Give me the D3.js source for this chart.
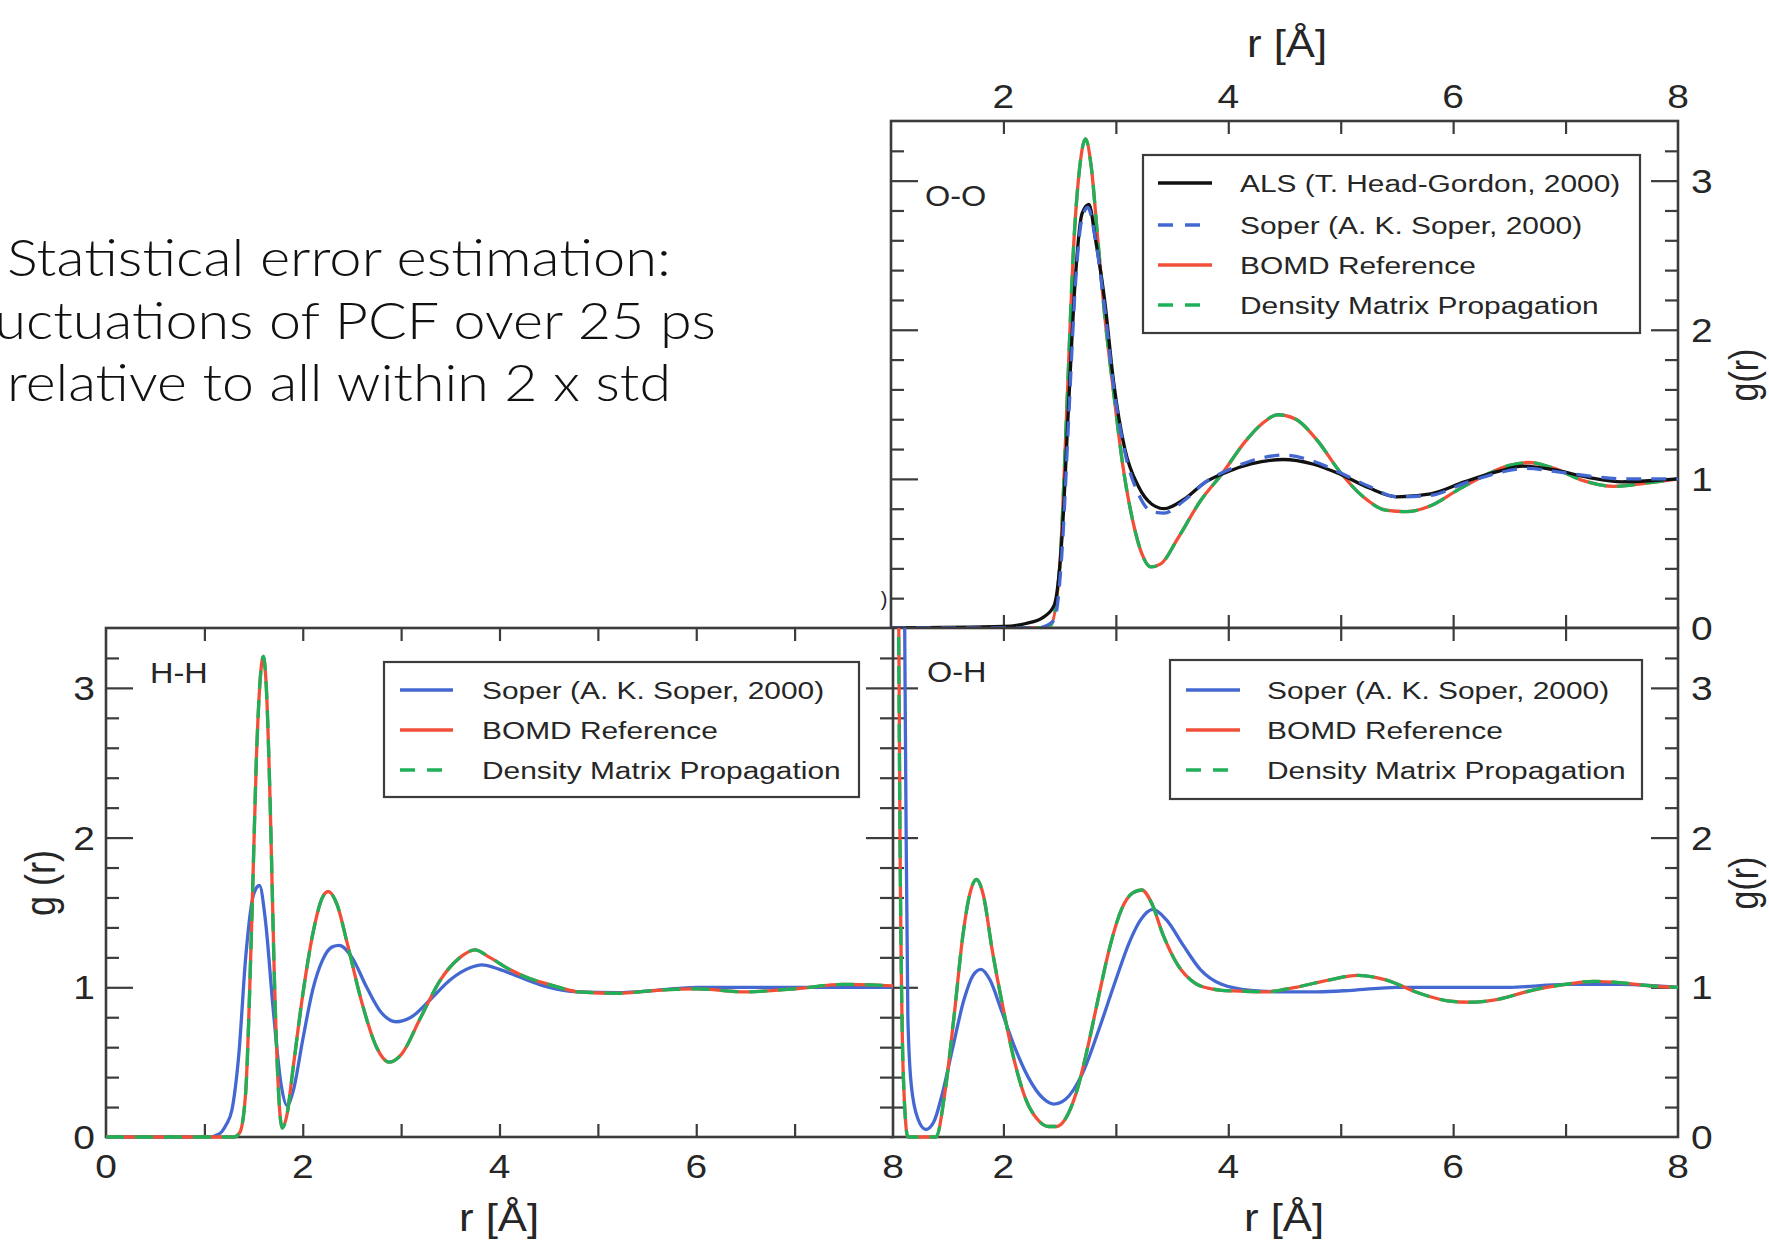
<!DOCTYPE html>
<html>
<head>
<meta charset="utf-8">
<script src="https://cdn.jsdelivr.net/npm/d3@7"></script>
<style>
  body { margin: 0; background: #fff; }
</style>
</head>
<body>
<svg id="chart"></svg>
<script>
// ---- data (r in Angstrom, g(r)) ----
// O-O panel
const ooAlsR   = [1.0, 2.0, 2.2, 2.35, 2.45, 2.52, 2.58, 2.64, 2.7, 2.76, 2.82, 2.9, 2.98, 3.08, 3.2, 3.32, 3.43, 3.6, 3.8, 4.0, 4.2, 4.49, 4.75, 5.0, 5.25, 5.5, 5.8, 6.1, 6.4, 6.62, 6.9, 7.2, 7.5, 7.8, 8.0];
const ooAlsG   = [0, 0.01, 0.03, 0.07, 0.15, 0.6, 1.5, 2.35, 2.78, 2.84, 2.6, 2.2, 1.65, 1.2, 0.95, 0.83, 0.8, 0.86, 0.98, 1.05, 1.1, 1.13, 1.1, 1.03, 0.94, 0.88, 0.9, 0.98, 1.05, 1.085, 1.06, 1.01, 0.98, 0.99, 1.0];
const ooSoperR = [1.0, 2.3, 2.45, 2.52, 2.58, 2.64, 2.7, 2.75, 2.82, 2.9, 2.98, 3.08, 3.2, 3.32, 3.43, 3.6, 3.8, 4.0, 4.2, 4.5, 4.75, 5.0, 5.25, 5.5, 5.8, 6.1, 6.4, 6.65, 6.9, 7.2, 7.5, 7.8, 8.0];
const ooSoperG = [0, 0, 0.05, 0.5, 1.4, 2.3, 2.75, 2.82, 2.6, 2.15, 1.62, 1.18, 0.9, 0.78, 0.77, 0.85, 0.98, 1.06, 1.12, 1.16, 1.12, 1.04, 0.95, 0.88, 0.89, 0.97, 1.04, 1.07, 1.05, 1.02, 1.0, 1.0, 1.0];
const ooBomdR  = [1.0, 2.3, 2.42, 2.5, 2.56, 2.62, 2.68, 2.73, 2.78, 2.84, 2.9, 2.98, 3.06, 3.15, 3.23, 3.31, 3.4, 3.55, 3.75, 3.95, 4.15, 4.3, 4.44, 4.6, 4.8, 4.98, 5.2, 5.4, 5.58, 5.8, 6.05, 6.3, 6.5, 6.67, 6.9, 7.15, 7.43, 7.7, 8.0];
const ooBomdG  = [0, 0, 0.02, 0.4, 1.4, 2.5, 3.1, 3.28, 3.1, 2.6, 2.1, 1.58, 1.1, 0.72, 0.5, 0.41, 0.43, 0.6, 0.85, 1.04, 1.25, 1.37, 1.43, 1.4, 1.25, 1.06, 0.88, 0.79, 0.78, 0.82, 0.93, 1.03, 1.09, 1.11, 1.07, 0.99, 0.95, 0.97, 1.0];
const ooDmpG   = ooBomdG; // green dashes lie right on top of the red curve

// H-H panel
const hhSoperR = [0, 1.05, 1.15, 1.22, 1.28, 1.35, 1.42, 1.5, 1.56, 1.62, 1.7, 1.78, 1.84, 1.9, 2.0, 2.1, 2.2, 2.3, 2.37, 2.5, 2.65, 2.8, 2.95, 3.1, 3.3, 3.5, 3.7, 3.82, 4.0, 4.2, 4.45, 4.8, 5.2, 5.6, 6.0, 6.5, 7.0, 7.5, 8.0];
const hhSoperG = [0, 0, 0.02, 0.08, 0.18, 0.55, 1.2, 1.62, 1.68, 1.45, 0.85, 0.35, 0.21, 0.3, 0.65, 0.98, 1.18, 1.27, 1.28, 1.2, 1.0, 0.83, 0.77, 0.8, 0.92, 1.05, 1.13, 1.15, 1.12, 1.07, 1.01, 0.97, 0.965, 0.98, 1.0, 1.0, 1.0, 1.0, 1.0];
const hhBomdR  = [0, 1.0, 1.3, 1.36, 1.42, 1.48, 1.53, 1.57, 1.6, 1.63, 1.67, 1.71, 1.75, 1.79, 1.84, 1.9, 2.0, 2.1, 2.2, 2.26, 2.35, 2.45, 2.6, 2.75, 2.88, 3.0, 3.2, 3.4, 3.6, 3.75, 3.9, 4.1, 4.3, 4.5, 4.8, 5.2, 5.6, 6.0, 6.5, 7.0, 7.5, 8.0];
const hhBomdG  = [0, 0, 0, 0.03, 0.3, 1.4, 2.55, 3.08, 3.21, 3.0, 2.2, 1.1, 0.35, 0.06, 0.15, 0.45, 0.95, 1.35, 1.6, 1.64, 1.55, 1.3, 0.9, 0.6, 0.5, 0.55, 0.8, 1.05, 1.2, 1.25, 1.2, 1.12, 1.06, 1.02, 0.97, 0.96, 0.98, 0.99, 0.97, 0.99, 1.02, 1.01];
const hhDmpG   = hhBomdG;

// O-H panel (first peak near 1 A runs far off the top)
const ohSoperR = [1.0, 1.08, 1.13, 1.15, 1.18, 1.24, 1.31, 1.38, 1.46, 1.55, 1.65, 1.73, 1.8, 1.88, 1.98, 2.1, 2.22, 2.35, 2.45, 2.55, 2.7, 2.85, 3.0, 3.12, 3.22, 3.33, 3.45, 3.6, 3.75, 3.94, 4.2, 4.5, 4.8, 5.1, 5.5, 6.0, 6.5, 7.0, 7.5, 8.0];
const ohSoperG = [20, 8, 2.5, 0.8, 0.35, 0.12, 0.05, 0.1, 0.3, 0.6, 0.92, 1.08, 1.12, 1.05, 0.85, 0.6, 0.4, 0.26, 0.22, 0.25, 0.42, 0.72, 1.05, 1.3, 1.45, 1.52, 1.45, 1.28, 1.12, 1.02, 0.98, 0.97, 0.97, 0.98, 1.0, 1.0, 1.0, 1.02, 1.02, 1.0];
const ohBomdR  = [1.0, 1.05, 1.08, 1.11, 1.15, 1.4, 1.48, 1.56, 1.64, 1.7, 1.76, 1.82, 1.9, 2.0, 2.1, 2.2, 2.3, 2.4, 2.47, 2.55, 2.65, 2.75, 2.85, 2.95, 3.05, 3.15, 3.23, 3.32, 3.42, 3.55, 3.7, 3.85, 3.94, 4.1, 4.34, 4.6, 4.9, 5.15, 5.4, 5.7, 5.95, 6.16, 6.4, 6.7, 7.0, 7.25, 7.5, 7.75, 8.0];
const ohBomdG  = [20, 6, 2, 0.4, 0.0, 0.0, 0.3, 0.8, 1.35, 1.62, 1.72, 1.62, 1.25, 0.85, 0.5, 0.25, 0.12, 0.07, 0.07, 0.12, 0.3, 0.6, 0.95, 1.28, 1.52, 1.63, 1.65, 1.56, 1.35, 1.15, 1.03, 0.99, 0.98, 0.975, 0.97, 1.0, 1.05, 1.08, 1.05, 0.96, 0.91, 0.9, 0.92, 0.98, 1.02, 1.04, 1.03, 1.01, 1.0];
const ohDmpG   = ohBomdG;

const legendOO = ["ALS (T. Head-Gordon, 2000)", "Soper (A. K. Soper, 2000)", "BOMD Reference", "Density Matrix Propagation"];
const legend3  = ["Soper (A. K. Soper, 2000)", "BOMD Reference", "Density Matrix Propagation"];
const slideText = ["Statistical error estimation:", "Fluctuations of PCF over 25 ps", "relative to all within 2 x std"];

// ---- setup ----
const W = 1769, H = 1246;
const FONT = "'Liberation Sans', Arial, Helvetica, sans-serif";
const INK = "#262626";
const FRAME = "#3d3b3b";
const col = { als: "#111111", soper: "#4468d2", bomd: "#f24f38", dmp: "#1fb05a" };
const DASH = "18,11";

const svg = d3.select("#chart").attr("width", W).attr("height", H);
svg.append("rect").attr("width", W).attr("height", H).attr("fill", "#fff");

// the figure image is a bit stretched sideways, so the text is too
function sText(parent, x, y, str, size, anchor, k, rot) {
  return parent.append("text")
    .attr("transform", `translate(${x},${y}) scale(${k},1)` + (rot ? ` rotate(${rot})` : ""))
    .attr("text-anchor", anchor)
    .attr("font-family", FONT)
    .attr("font-size", size)
    .attr("fill", INK)
    .text(str);
}

const panels = [
  {
    id: "oo", label: "O-O", labelPos: [925, 206],
    box: { x0: 891, x1: 1678, y0: 121, y1: 628 }, xDomain: [1, 8],
    xLabels: "top", yLabels: "right",
    series: [
      { r: ooBomdR, g: ooBomdG, color: col.bomd },
      { r: ooBomdR, g: ooDmpG, color: col.dmp, dash: DASH },
      { r: ooAlsR, g: ooAlsG, color: col.als },
      { r: ooSoperR, g: ooSoperG, color: col.soper, dash: "15,10" }
    ],
    legend: { x0: 1143, y0: 155, x1: 1640, y1: 333, rows: [183, 225, 265, 305], s0: 1158, s1: 1212, tx: 1240,
      names: legendOO,
      styles: [{ c: col.als }, { c: col.soper, d: "15,12" }, { c: col.bomd }, { c: col.dmp, d: "15,12" }] }
  },
  {
    id: "oh", label: "O-H", labelPos: [927, 682],
    box: { x0: 891, x1: 1678, y0: 628, y1: 1137 }, xDomain: [1, 8],
    xLabels: "bottom", yLabels: "right",
    series: [
      { r: ohSoperR, g: ohSoperG, color: col.soper },
      { r: ohBomdR, g: ohBomdG, color: col.bomd },
      { r: ohBomdR, g: ohDmpG, color: col.dmp, dash: DASH }
    ],
    legend: { x0: 1170, y0: 660, x1: 1642, y1: 799, rows: [690, 730, 770], s0: 1186, s1: 1240, tx: 1267,
      names: legend3,
      styles: [{ c: col.soper }, { c: col.bomd }, { c: col.dmp, d: "15,12" }] }
  },
  {
    id: "hh", label: "H-H", labelPos: [150, 683],
    box: { x0: 106, x1: 893, y0: 628, y1: 1137 }, xDomain: [0, 8],
    xLabels: "bottom", yLabels: "left",
    series: [
      { r: hhSoperR, g: hhSoperG, color: col.soper },
      { r: hhBomdR, g: hhBomdG, color: col.bomd },
      { r: hhBomdR, g: hhDmpG, color: col.dmp, dash: DASH }
    ],
    legend: { x0: 384, y0: 662, x1: 859, y1: 797, rows: [690, 730, 770], s0: 400, s1: 453, tx: 482,
      names: legend3,
      styles: [{ c: col.soper }, { c: col.bomd }, { c: col.dmp, d: "15,12" }] }
  }
];

panels.forEach(p => {
  const b = p.box;
  const g = svg.append("g").attr("class", "panel-" + p.id);
  const x = d3.scaleLinear().domain(p.xDomain).range([b.x0, b.x1]);
  const y = d3.scaleLinear().domain([0, 3.4]).range([b.y1, b.y0]);

  // white panel background + frame
  g.append("rect")
    .attr("x", b.x0).attr("y", b.y0)
    .attr("width", b.x1 - b.x0).attr("height", b.y1 - b.y0)
    .attr("fill", "#fff");

  // ticks, all pointing inward
  const xt = d3.range(Math.floor(p.xDomain[0]) + 1, p.xDomain[1]);
  const yMinor = d3.range(1, 17).filter(i => i % 5 !== 0).map(i => i * 0.2);
  const yMajor = [1, 2, 3];
  const axes = [
    g.append("g").attr("transform", `translate(0,${b.y1})`).call(d3.axisBottom(x).tickValues(xt).tickSize(-13).tickFormat("")),
    g.append("g").attr("transform", `translate(0,${b.y0})`).call(d3.axisTop(x).tickValues(xt).tickSize(-13).tickFormat("")),
    g.append("g").attr("transform", `translate(${b.x0},0)`).call(d3.axisLeft(y).tickValues(yMinor).tickSize(-13).tickFormat("")),
    g.append("g").attr("transform", `translate(${b.x0},0)`).call(d3.axisLeft(y).tickValues(yMajor).tickSize(-27).tickFormat("")),
    g.append("g").attr("transform", `translate(${b.x1},0)`).call(d3.axisRight(y).tickValues(yMinor).tickSize(-13).tickFormat("")),
    g.append("g").attr("transform", `translate(${b.x1},0)`).call(d3.axisRight(y).tickValues(yMajor).tickSize(-27).tickFormat(""))
  ];
  axes.forEach(a => {
    a.select(".domain").remove();
    a.selectAll("line").attr("stroke", FRAME).attr("stroke-width", 2.2);
  });

  g.append("rect")
    .attr("x", b.x0).attr("y", b.y0)
    .attr("width", b.x1 - b.x0).attr("height", b.y1 - b.y0)
    .attr("fill", "none").attr("stroke", FRAME).attr("stroke-width", 2.6);

  // curves, clipped a little outside the frame so the zero line shows on the border
  svg.append("clipPath").attr("id", "clip-" + p.id).append("rect")
    .attr("x", b.x0 - 2).attr("y", b.y0)
    .attr("width", b.x1 - b.x0 + 4).attr("height", b.y1 - b.y0 + 3);

  const line = d3.line()
    .x(d => x(d[0]))
    .y(d => y(d[1]))
    .curve(d3.curveMonotoneX);

  const cg = g.append("g").attr("clip-path", `url(#clip-${p.id})`);
  p.series.forEach(s => {
    cg.append("path")
      .datum(d3.zip(s.r, s.g))
      .attr("d", line)
      .attr("fill", "none")
      .attr("stroke", s.color)
      .attr("stroke-width", 3.3)
      .attr("stroke-linejoin", "round")
      .attr("stroke-dasharray", s.dash || null);
  });

  // tick labels
  const xl = xt.concat([p.xDomain[1]]).filter(v => v % 2 === 0);
  if (p.xDomain[0] % 2 === 0) xl.unshift(p.xDomain[0]);
  xl.forEach(v => {
    if (p.xLabels === "bottom") sText(g, x(v), b.y1 + 41, v, 33, "middle", 1.18);
    else sText(g, x(v), b.y0 - 13, v, 33, "middle", 1.18);
  });
  [0, 1, 2, 3].forEach(v => {
    if (p.yLabels === "left") sText(g, b.x0 - 11, y(v) + 12, v, 33, "end", 1.18);
    else sText(g, b.x1 + 13, y(v) + 12, v, 33, "start", 1.18);
  });

  sText(g, p.labelPos[0], p.labelPos[1], p.label, 29, "start", 1.12);

  // legend
  const L = p.legend;
  g.append("rect")
    .attr("x", L.x0).attr("y", L.y0)
    .attr("width", L.x1 - L.x0).attr("height", L.y1 - L.y0)
    .attr("fill", "#fff").attr("stroke", FRAME).attr("stroke-width", 2.2);
  L.names.forEach((name, i) => {
    g.append("line")
      .attr("x1", L.s0).attr("x2", L.s1)
      .attr("y1", L.rows[i]).attr("y2", L.rows[i])
      .attr("stroke", L.styles[i].c)
      .attr("stroke-width", 3.4)
      .attr("stroke-dasharray", L.styles[i].d || null);
    sText(g, L.tx, L.rows[i] + 9, name, 24.5, "start", 1.22);
  });
});

// axis titles
sText(svg, 1287, 57, "r [Å]", 38, "middle", 1.15);
sText(svg, 499, 1231, "r [Å]", 38, "middle", 1.15);
sText(svg, 1284, 1231, "r [Å]", 38, "middle", 1.15);
sText(svg, 1744, 375, "g(r)", 34, "middle", 1.2, -90).attr("dy", "0.35em");
sText(svg, 1744, 883, "g(r)", 34, "middle", 1.2, -90).attr("dy", "0.35em");
sText(svg, 40, 883, "g (r)", 36, "middle", 1.2, -90).attr("dy", "0.35em");
// leftover bracket of a hidden label just left of the O-O frame
sText(svg, 884, 606, ")", 20, "middle", 1.0);

// slide text on the left; the middle line runs off the page edge as in the slide
const lineX = [339, 333, 339];
const lineBase = [276, 339, 401];
const lineLen = [664, 766, 664];
slideText.forEach((t, i) => {
  svg.append("text")
    .attr("x", lineX[i]).attr("y", lineBase[i])
    .attr("text-anchor", "middle")
    .attr("font-family", "Lato, 'Open Sans', 'DejaVu Sans', sans-serif")
    .attr("font-weight", 300)
    .attr("font-size", 52)
    .attr("textLength", lineLen[i])
    .attr("lengthAdjust", "spacingAndGlyphs")
    .attr("fill", "#111")
    .text(t);
});
</script>
</body>
</html>
